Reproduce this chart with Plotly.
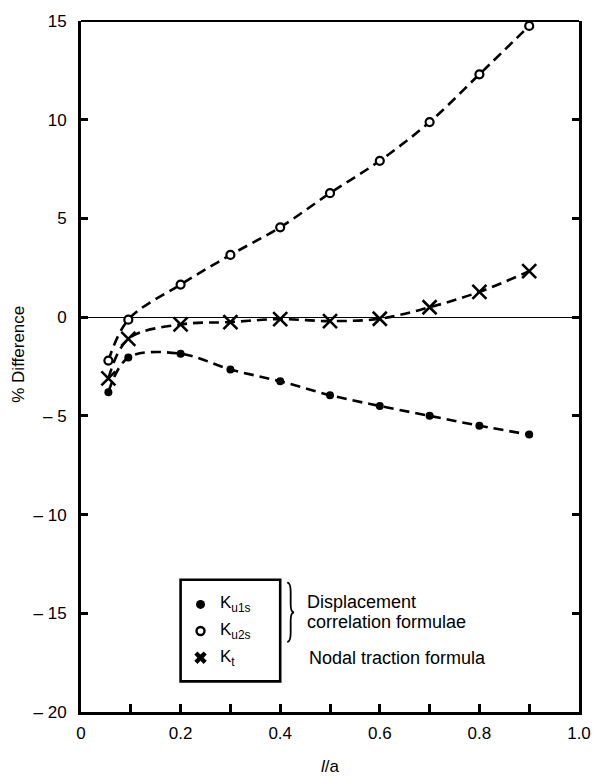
import plotly.graph_objects as go

# ---- data ----
x_pts = [0.055, 0.095, 0.2, 0.3, 0.4, 0.5, 0.6, 0.7, 0.8, 0.9]
ku1s = [-3.8, -2.05, -1.85, -2.65, -3.25, -3.95, -4.5, -5.0, -5.5, -5.95]
ku2s = [-2.2, -0.13, 1.65, 3.15, 4.55, 6.28, 7.92, 9.88, 12.3, 14.75]
kt = [-3.1, -1.1, -0.37, -0.25, -0.1, -0.2, -0.08, 0.5, 1.28, 2.33]

x_ticks = [0, 0.2, 0.4, 0.6, 0.8, 1.0]
x_tick_text = ["0", "0.2", "0.4", "0.6", "0.8", "1.0"]
x_minor_ticks = [0.1, 0.3, 0.5, 0.7, 0.9]
y_ticks = [-20, -15, -10, -5, 0, 5, 10, 15]
y_tick_text = ["– 20", "– 15", "– 10", "– 5", "0", "5", "10", "15"]

legend_labels = ["K<sub>u1s</sub>", "K<sub>u2s</sub>", "K<sub>t</sub>"]
legend_rows_y = [-14.55, -15.9, -17.25]

FONT = "Liberation Sans, Arial, Helvetica, sans-serif"
DASH = "10px,6px"

fig = go.Figure()

line_style = dict(color="black", width=2.6, dash=DASH, shape="spline", smoothing=1.0)

fig.add_trace(go.Scatter(
    x=x_pts, y=ku1s, mode="lines+markers", line=line_style,
    marker=dict(symbol="circle", size=8, color="black"), showlegend=False))
fig.add_trace(go.Scatter(
    x=x_pts, y=ku2s, mode="lines+markers", line=line_style,
    marker=dict(symbol="circle", size=8, color="white", line=dict(color="black", width=2.2)),
    showlegend=False))
fig.add_trace(go.Scatter(
    x=x_pts, y=kt, mode="lines+markers", line=line_style,
    marker=dict(symbol="x-thin", size=14, color="black", line=dict(color="black", width=2.6)),
    showlegend=False))

# legend box (drawn manually)
fig.add_shape(type="rect", x0=0.2, x1=0.40, y0=-18.45, y1=-13.3,
              line=dict(color="black", width=2.6), fillcolor="white", layer="below")
fig.add_trace(go.Scatter(
    x=[0.24], y=[legend_rows_y[0]], mode="markers",
    marker=dict(symbol="circle", size=9, color="black"), showlegend=False))
fig.add_trace(go.Scatter(
    x=[0.24], y=[legend_rows_y[1]], mode="markers",
    marker=dict(symbol="circle", size=8, color="white", line=dict(color="black", width=2.4)),
    showlegend=False))
fig.add_trace(go.Scatter(
    x=[0.24], y=[legend_rows_y[2]], mode="markers",
    marker=dict(symbol="x", size=11, color="black", line=dict(width=0)), showlegend=False))

for lab, yy in zip(legend_labels, legend_rows_y):
    fig.add_annotation(x=0.275, y=yy, text=lab, showarrow=False, xanchor="left",
                       yanchor="middle", font=dict(family=FONT, size=17, color="black"))

# brace
xl, xm, xt = 0.414, 0.421, 0.428
brace = (f"M {xl},-13.45 Q {xm},-13.45 {xm},-13.9 L {xm},-14.55 "
         f"Q {xm},-14.95 {xt},-14.95 Q {xm},-14.95 {xm},-15.35 L {xm},-16.0 "
         f"Q {xm},-16.45 {xl},-16.45")
fig.add_shape(type="path", path=brace, line=dict(color="black", width=1.8), layer="above")

fig.add_annotation(x=0.449, y=-14.45, text="Displacement", showarrow=False,
                   xanchor="left", yanchor="middle", font=dict(family=FONT, size=18, color="black"))
fig.add_annotation(x=0.449, y=-15.45, text="correlation formulae", showarrow=False,
                   xanchor="left", yanchor="middle", font=dict(family=FONT, size=18, color="black"))
fig.add_annotation(x=0.454, y=-17.25, text="Nodal traction formula", showarrow=False,
                   xanchor="left", yanchor="middle", font=dict(family=FONT, size=18, color="black"))

# axis titles
fig.add_annotation(xref="paper", yref="paper", x=0, y=0.517, xshift=-62,
                   text="% Difference", textangle=-90, showarrow=False,
                   xanchor="center", yanchor="middle",
                   font=dict(family=FONT, size=17, color="black"))
fig.add_annotation(xref="paper", yref="paper", x=0.5, y=0, yshift=-54,
                   text="<i>l</i>/a", showarrow=False, xanchor="center", yanchor="middle",
                   font=dict(family=FONT, size=17, color="black"))

# top border
fig.add_shape(type="line", xref="paper", yref="paper", x0=0, x1=1, y0=1, y1=1,
              line=dict(color="black", width=2))

fig.update_layout(
    width=603, height=776,
    margin=dict(l=81, r=14, t=12, b=64),
    paper_bgcolor="white", plot_bgcolor="white",
    font=dict(family=FONT, size=17, color="black"),
    xaxis=dict(range=[0, 1], tickvals=x_ticks, ticktext=x_tick_text,
               ticks="inside", ticklen=8, tickwidth=2.5, tickcolor="black",
               minor=dict(tickvals=x_minor_ticks, ticks="inside", ticklen=8,
                          tickwidth=2.5, tickcolor="black", showgrid=False),
               showline=True, linecolor="black", linewidth=3, mirror=False,
               showgrid=False, zeroline=False, ticklabelstandoff=4,
               tickfont=dict(family=FONT, size=17)),
    yaxis=dict(range=[-20, 15], tickvals=y_ticks, ticktext=y_tick_text,
               ticks="inside", ticklen=7, tickwidth=2.5, tickcolor="black",
               showline=True, linecolor="black", linewidth=3, mirror="ticks",
               showgrid=False, zeroline=True, zerolinecolor="black", zerolinewidth=1.2,
               ticklabelstandoff=8, tickfont=dict(family=FONT, size=17)),
)

fig.write_html("out.html", config={"displayModeBar": False},
               post_script="document.body.style.margin='0';")
